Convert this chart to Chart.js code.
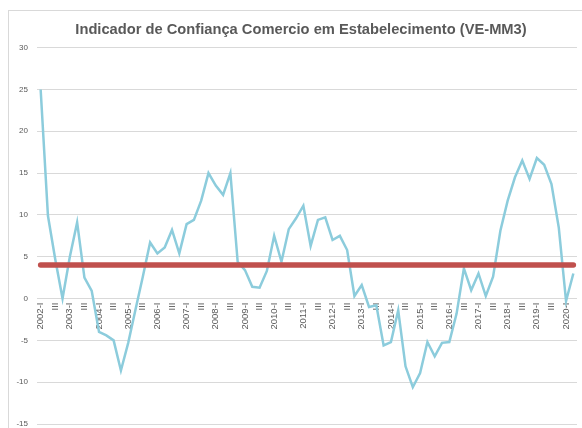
<!DOCTYPE html>
<html>
<head>
<meta charset="utf-8">
<script src="https://cdn.jsdelivr.net/npm/chart.js@4"></script>
<style>
  html, body { margin: 0; padding: 0; background: #fff; overflow: hidden; }
  #frame { position: absolute; left: 8px; top: 10px; width: 620px; height: 460px; border: 1px solid #d9d9d9; }
  #wrap { position: absolute; left: 0; top: 0; width: 602px; height: 440px; }
</style>
</head>
<body>
<div id="frame"></div>
<div id="wrap"><canvas id="chartConfianca" width="602" height="440"></canvas></div>
<script>
(function () {
    // trimestres 2002-I .. 2020-II
    const anos = [2002, 2003, 2004, 2005, 2006, 2007, 2008, 2009, 2010, 2011,
                  2012, 2013, 2014, 2015, 2016, 2017, 2018, 2019, 2020];
    const trimestres = ['I', 'II', 'III', 'IV'];
    const categorias = [];
    anos.forEach(a => trimestres.forEach((t, i) => {
        if (a === 2020 && i > 1) return;
        categorias.push(i === 0 ? a + '-' + t : t);
    }));

    const indicador = [
        25.0, 9.9, 4.7, 0.0,
        5.0, 9.1, 2.5, 0.9,
        -4.0, -4.4, -5.0, -8.6,
        -5.3, -1.3, 2.6, 6.7,
        5.4, 6.1, 8.2, 5.4,
        8.9, 9.4, 11.7, 15.0,
        13.5, 12.4, 15.0, 4.4,
        3.4, 1.4, 1.3, 3.3,
        7.5, 4.4, 8.3, 9.6,
        11.1, 6.3, 9.4, 9.7,
        7.0, 7.5, 5.8, 0.3,
        1.6, -1.0, -0.8, -5.6,
        -5.2, -1.4, -8.1, -10.6,
        -8.9, -5.2, -6.9, -5.3,
        -5.2, -1.8, 3.6, 1.0,
        3.0, 0.3, 2.6, 8.1,
        11.7, 14.5, 16.5, 14.3,
        16.8, 16.0, 13.7, 8.5,
        -0.3, 3.0
    ];
    const referencia = categorias.map(() => 4);

    const eixoY = { min: -15, max: 30, passo: 5 };

    new Chart(document.getElementById('chartConfianca'), {
        type: 'line',
        data: {
            labels: categorias,
            datasets: [
                {
                    data: indicador,
                    borderColor: '#8CCCDC',
                    borderWidth: 2.5,
                    pointRadius: 0,
                    tension: 0,
                    order: 1
                },
                {
                    data: referencia,
                    borderColor: '#C0504D',
                    borderWidth: 5.5,
                    borderCapStyle: 'round',
                    pointRadius: 0,
                    order: 0
                }
            ]
        },
        options: {
            responsive: false,
            animation: false,
            layout: { padding: { top: 0, right: 0, bottom: 16, left: 0 } },
            plugins: {
                legend: { display: false },
                tooltip: { enabled: false },
                title: {
                    display: true,
                    text: 'Indicador de Confiança Comercio em Estabelecimento (VE-MM3)',
                    color: '#595959',
                    font: { family: 'Liberation Sans', size: 14.7, weight: 'bold' },
                    padding: { top: 21, bottom: 9 }
                }
            },
            scales: {
                x: {
                    position: { y: 0 },
                    offset: true,
                    grid: { display: false, drawTicks: false },
                    border: { display: false },
                    ticks: {
                        autoSkip: false,
                        minRotation: 90,
                        maxRotation: 90,
                        padding: 4,
                        color: '#595959',
                        font: { family: 'Liberation Sans', size: 9.5 },
                        callback: (v, i) => i % 2 === 0 ? categorias[i] : null
                    },
                    afterFit: s => { s.height = 0; }
                },
                y: {
                    min: eixoY.min,
                    max: eixoY.max,
                    grid: { color: '#D9D9D9', drawTicks: false },
                    border: { display: false },
                    ticks: {
                        stepSize: eixoY.passo,
                        padding: 9,
                        color: '#595959',
                        font: { family: 'Liberation Sans', size: 8 }
                    },
                    afterFit: s => { s.width = 37; }
                },
                // margem direita do gráfico (fora do recorte)
                margem: {
                    position: 'right',
                    grid: { display: false },
                    border: { display: false },
                    ticks: { display: false },
                    afterFit: s => { s.width = 25; }
                }
            }
        }
    });
})();
</script>
</body>
</html>
